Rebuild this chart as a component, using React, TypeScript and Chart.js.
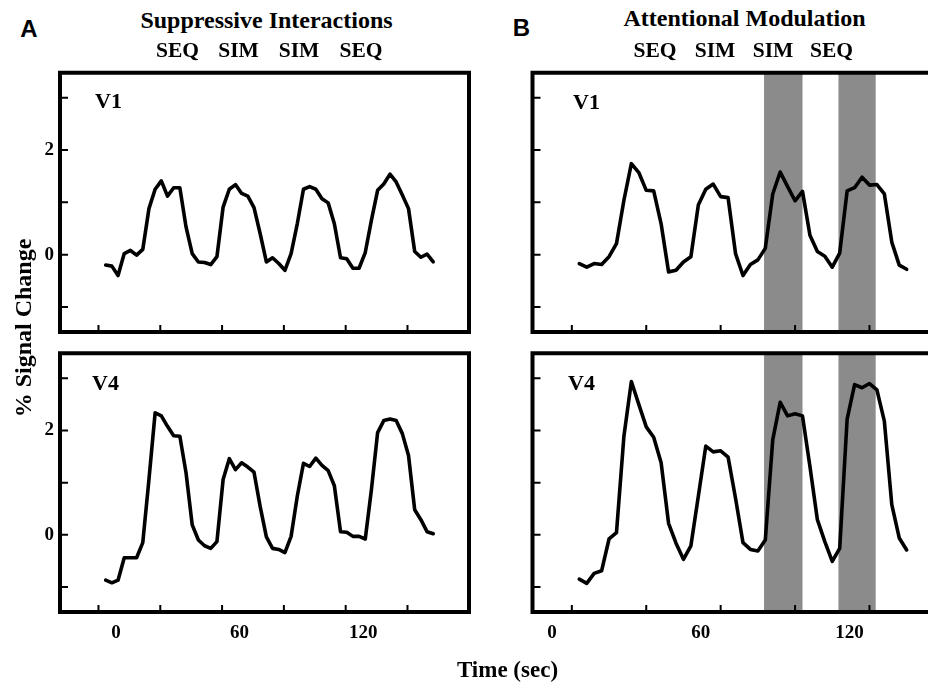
import React, { useEffect, useRef } from "react";
import { Chart, registerables } from "chart.js";

Chart.register(...registerables);

// ---------- data ----------
const timeSuppressive = [
  -5, -2, 1, 4, 7, 10, 13, 16, 19, 22, 25, 28, 31, 34, 37, 40, 43, 46, 49, 52,
  55, 58, 61, 64, 67, 70, 73, 76, 79, 82, 85, 88, 91, 94, 97, 100, 103, 106, 109, 112,
  115, 118, 121, 124, 127, 130, 133, 136, 139, 142, 145, 148, 151, 154,
];
const timeAttention = [
  11, 14, 17, 20, 23, 26, 29, 32, 35, 38, 41, 44, 47, 50, 53, 56, 59, 62, 65, 68,
  71, 74, 77, 80, 83, 86, 89, 92, 95, 98, 101, 104, 107, 110, 113, 116, 119, 122, 125, 128,
  131, 134, 137, 140, 143,
];
const v1Suppressive = [
  -0.2, -0.22, -0.4, 0.02, 0.08, -0.01, 0.1, 0.88, 1.25, 1.41, 1.12, 1.28, 1.28, 0.53, 0.02,
  -0.14, -0.15, -0.19, -0.04, 0.91, 1.25, 1.34, 1.17, 1.12, 0.9, 0.4, -0.14, -0.06, -0.17, -0.3,
  0.02, 0.59, 1.25, 1.3, 1.25, 1.07, 0.99, 0.59, -0.06, -0.08, -0.26, -0.26, 0.04, 0.66, 1.23,
  1.35, 1.54, 1.39, 1.14, 0.88, 0.06, -0.05, 0.01, -0.14,
];
const v4Suppressive = [
  -0.87, -0.92, -0.87, -0.44, -0.44, -0.44, -0.15, 1.06, 2.34, 2.28, 2.08, 1.9, 1.89, 1.19, 0.19,
  -0.1, -0.21, -0.26, -0.13, 1.06, 1.46, 1.25, 1.38, 1.3, 1.2, 0.54, -0.04, -0.26, -0.28, -0.34,
  -0.03, 0.74, 1.37, 1.31, 1.47, 1.33, 1.23, 0.94, 0.06, 0.05, -0.03, -0.03, -0.08, 0.87, 1.96,
  2.19, 2.22, 2.19, 1.94, 1.52, 0.48, 0.29, 0.06, 0.02,
];
const v1Attention = [
  -0.17, -0.24, -0.17, -0.19, -0.04, 0.21, 1.04, 1.74, 1.57, 1.23, 1.22, 0.59, -0.33, -0.3, -0.14,
  -0.04, 0.95, 1.25, 1.35, 1.11, 1.09, 0.02, -0.4, -0.19, -0.1, 0.12, 1.16, 1.58, 1.3, 1.03,
  1.21, 0.37, 0.06, -0.03, -0.24, 0.03, 1.22, 1.28, 1.48, 1.33, 1.34, 1.16, 0.24, -0.2, -0.28,
];
const v4Attention = [
  -0.85, -0.93, -0.74, -0.69, -0.08, 0.04, 1.89, 2.94, 2.5, 2.07, 1.87, 1.38, 0.22, -0.16, -0.47,
  -0.21, 0.74, 1.7, 1.59, 1.61, 1.49, 0.7, -0.15, -0.28, -0.31, -0.1, 1.82, 2.54, 2.28, 2.32,
  2.28, 1.31, 0.29, -0.13, -0.51, -0.26, 2.22, 2.88, 2.82, 2.9, 2.78, 2.18, 0.58, -0.06, -0.29,
];
const yTickMarks = [-1, 0, 1, 2, 3];
const yTickLabels = [0, 2];
const xTickMarksSuppressive = [-8.5, 21.5, 51.5, 81.5, 111.5, 141.5];
const xTickMarksAttention = [8, 38, 68, 98, 128];
const xTickLabels = [0, 60, 120];
const attentionBands: number[][] = [
  [85.5, 101],
  [115.5, 130.5],
];
const blockLabels = ["SEQ", "SIM", "SIM", "SEQ"];

const SERIF = "'Liberation Serif', 'Times New Roman', serif";
const SANS = "'Liberation Sans', Arial, sans-serif";

type PanelCfg = {
  times: number[];
  values: number[];
  xMin: number;
  xMax: number;
  xMarks: number[];
  bands: number[][];
  showYLabels: boolean;
  showXLabels: boolean;
  rightBorder: boolean;
  padTop: number;
  padRight: number;
  yAxisW: number;
  xAxisH: number;
};

function makeDecor(cfg: PanelCfg) {
  return {
    id: "panelDecor",
    beforeDatasetsDraw(chart: any) {
      const { ctx, chartArea: a, scales } = chart;
      const x = scales.x;
      ctx.save();
      ctx.fillStyle = "#8b8b8b";
      cfg.bands.forEach(([s, e]) => {
        const x0 = x.getPixelForValue(s);
        const x1 = x.getPixelForValue(e);
        ctx.fillRect(x0, a.top, x1 - x0, a.bottom - a.top);
      });
      ctx.restore();
    },
    afterDraw(chart: any) {
      const { ctx, chartArea: a, scales } = chart;
      const x = scales.x;
      const y = scales.y;
      ctx.save();
      ctx.strokeStyle = "#000";
      ctx.lineWidth = 2;
      ctx.lineCap = "butt";
      ctx.beginPath();
      yTickMarks.forEach((v) => {
        const py = y.getPixelForValue(v);
        ctx.moveTo(a.left, py);
        ctx.lineTo(a.left + 8, py);
      });
      cfg.xMarks.forEach((v) => {
        const px = x.getPixelForValue(v);
        ctx.moveTo(px, a.bottom);
        ctx.lineTo(px, a.bottom - 7);
      });
      ctx.stroke();
      ctx.lineWidth = 4;
      ctx.lineJoin = "miter";
      ctx.beginPath();
      if (cfg.rightBorder) {
        ctx.rect(a.left, a.top, a.right - a.left, a.bottom - a.top);
      } else {
        ctx.moveTo(a.right + 4, a.top);
        ctx.lineTo(a.left, a.top);
        ctx.lineTo(a.left, a.bottom);
        ctx.lineTo(a.right + 4, a.bottom);
      }
      ctx.stroke();
      ctx.restore();
    },
  };
}

function Panel(props: { left: number; top: number; width: number; height: number; cfg: PanelCfg }) {
  const ref = useRef<HTMLCanvasElement | null>(null);
  const { left, top, width, height, cfg } = props;
  useEffect(() => {
    if (!ref.current) return;
    const tickFont = { family: SERIF, size: 19, weight: "bold" as const };
    const chart = new Chart(ref.current, {
      type: "line",
      data: {
        datasets: [
          {
            data: cfg.times.map((t, i) => ({ x: t, y: cfg.values[i] })),
            borderColor: "#000",
            borderWidth: 3.6,
            pointRadius: 0,
            tension: 0,
            borderJoinStyle: "round",
            borderCapStyle: "round",
            fill: false,
          },
        ],
      },
      options: {
        responsive: false,
        maintainAspectRatio: false,
        animation: false,
        events: [],
        layout: { padding: { top: cfg.padTop, right: cfg.padRight, left: 0, bottom: 0 } },
        plugins: { legend: { display: false }, tooltip: { enabled: false }, title: { display: false } },
        scales: {
          x: {
            type: "linear",
            min: cfg.xMin,
            max: cfg.xMax,
            bounds: "data",
            afterBuildTicks: (s: any) => {
              s.ticks = xTickLabels.map((v) => ({ value: v }));
            },
            ticks: {
              display: cfg.showXLabels,
              padding: 10,
              color: "#000",
              font: tickFont,
              autoSkip: false,
              maxRotation: 0,
              callback: (v: any) => String(v),
            },
            grid: { display: false, drawTicks: false },
            border: { display: false },
            afterFit: (s: any) => {
              s.height = cfg.xAxisH;
              s.paddingLeft = 0;
              s.paddingRight = 0;
            },
          },
          y: {
            type: "linear",
            min: -1.48,
            max: 3.48,
            afterBuildTicks: (s: any) => {
              s.ticks = yTickMarks.map((v) => ({ value: v }));
            },
            ticks: {
              display: cfg.showYLabels,
              padding: 6,
              color: "#000",
              font: tickFont,
              callback: (v: any) => (yTickLabels.includes(Number(v)) ? String(v) : ""),
            },
            grid: { display: false, drawTicks: false },
            border: { display: false },
            afterFit: (s: any) => {
              s.width = cfg.yAxisW;
              s.paddingTop = 0;
              s.paddingBottom = 0;
            },
          },
        },
      },
      plugins: [makeDecor(cfg)],
    } as any);
    return () => chart.destroy();
  }, []);
  return (
    <canvas
      ref={ref}
      width={width}
      height={height}
      style={{ position: "absolute", left, top, width, height, display: "block" }}
    />
  );
}

function Txt(props: {
  x: number;
  base: number;
  size: number;
  children: React.ReactNode;
  align?: "left" | "center";
  sans?: boolean;
}) {
  const { x, base, size, children, align = "center", sans } = props;
  const ratio = sans ? 0.8465 : 0.8375;
  return (
    <div
      style={{
        position: "absolute",
        left: x,
        top: base - ratio * size,
        fontFamily: sans ? SANS : SERIF,
        fontWeight: "bold",
        fontSize: size,
        lineHeight: `${size}px`,
        whiteSpace: "nowrap",
        color: "#000",
        transform: align === "center" ? "translateX(-50%)" : undefined,
      }}
    >
      {children}
    </div>
  );
}

const blockCentersA = [177.5, 238.5, 299, 361];
const blockCentersB = [655, 715, 773, 831.5];

export default function App() {
  const A_MIN = -27.18;
  const A_MAX = 171.36;
  const B_MIN = -7.86;
  const B_MAX = 151.6;
  return (
    <div
      style={{
        position: "absolute",
        left: 0,
        top: 0,
        width: 928,
        height: 684,
        overflow: "hidden",
        background: "#fff",
      }}
    >
      <Panel
        left={0}
        top={56}
        width={480}
        height={286}
        cfg={{
          times: timeSuppressive,
          values: v1Suppressive,
          xMin: A_MIN,
          xMax: A_MAX,
          xMarks: xTickMarksSuppressive,
          bands: [],
          showYLabels: true,
          showXLabels: false,
          rightBorder: true,
          padTop: 16.7,
          padRight: 11,
          yAxisW: 60,
          xAxisH: 10,
        }}
      />
      <Panel
        left={480}
        top={56}
        width={448}
        height={286}
        cfg={{
          times: timeAttention,
          values: v1Attention,
          xMin: B_MIN,
          xMax: B_MAX,
          xMarks: xTickMarksAttention,
          bands: attentionBands,
          showYLabels: false,
          showXLabels: false,
          rightBorder: false,
          padTop: 16.7,
          padRight: 0,
          yAxisW: 52.5,
          xAxisH: 10,
        }}
      />
      <Panel
        left={0}
        top={340}
        width={480}
        height={344}
        cfg={{
          times: timeSuppressive,
          values: v4Suppressive,
          xMin: A_MIN,
          xMax: A_MAX,
          xMarks: xTickMarksSuppressive,
          bands: [],
          showYLabels: true,
          showXLabels: true,
          rightBorder: true,
          padTop: 13.3,
          padRight: 11,
          yAxisW: 60,
          xAxisH: 72,
        }}
      />
      <Panel
        left={480}
        top={340}
        width={448}
        height={344}
        cfg={{
          times: timeAttention,
          values: v4Attention,
          xMin: B_MIN,
          xMax: B_MAX,
          xMarks: xTickMarksAttention,
          bands: attentionBands,
          showYLabels: false,
          showXLabels: true,
          rightBorder: false,
          padTop: 13.3,
          padRight: 0,
          yAxisW: 52.5,
          xAxisH: 72,
        }}
      />

      <Txt x={29} base={37} size={24} sans>
        A
      </Txt>
      <Txt x={521.5} base={36} size={24} sans>
        B
      </Txt>
      <Txt x={266.5} base={28} size={24}>
        Suppressive Interactions
      </Txt>
      <Txt x={744.5} base={26} size={24}>
        Attentional Modulation
      </Txt>
      {blockLabels.map((l, i) => (
        <Txt key={"a" + i} x={blockCentersA[i]} base={58} size={21.5}>
          {l}
        </Txt>
      ))}
      {blockLabels.map((l, i) => (
        <Txt key={"b" + i} x={blockCentersB[i]} base={58} size={21.5}>
          {l}
        </Txt>
      ))}
      <Txt x={95} base={108} size={22} align="left">
        V1
      </Txt>
      <Txt x={573} base={109} size={22} align="left">
        V1
      </Txt>
      <Txt x={92} base={390} size={22} align="left">
        V4
      </Txt>
      <Txt x={568} base={390} size={22} align="left">
        V4
      </Txt>
      <Txt x={507.5} base={677} size={23}>
        Time (sec)
      </Txt>
      <div
        style={{
          position: "absolute",
          left: 23.3 - 150,
          top: 327.5 - 12,
          width: 300,
          height: 24,
          lineHeight: "24px",
          fontSize: 24,
          fontFamily: SERIF,
          fontWeight: "bold",
          textAlign: "center",
          whiteSpace: "nowrap",
          transform: "rotate(-90deg)",
          transformOrigin: "center center",
          color: "#000",
        }}
      >
        % Signal Change
      </div>
    </div>
  );
}
